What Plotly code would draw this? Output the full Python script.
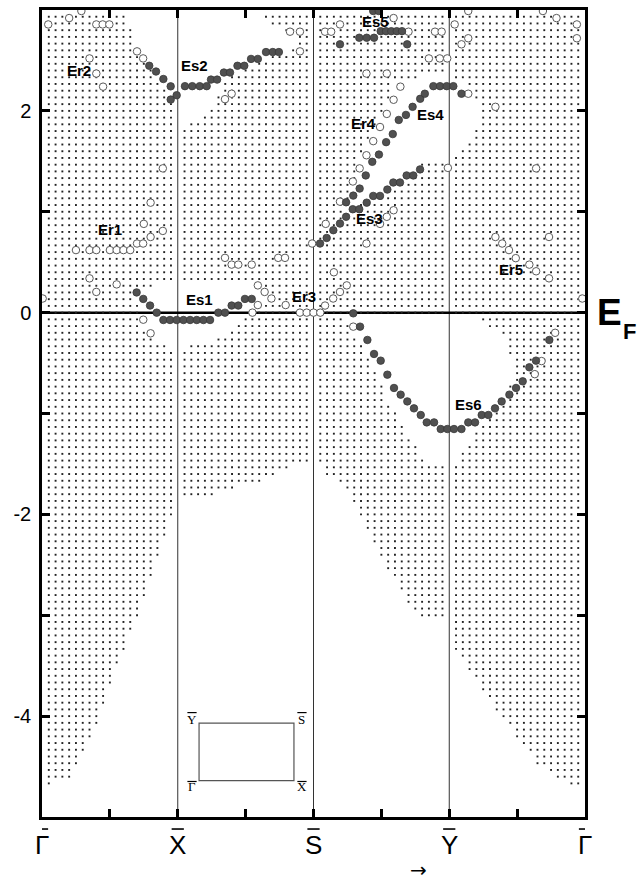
import plotly.graph_objects as go

# ---------------- data ----------------
sym_pos = [0, 1, 2, 3, 4]
sym_labels = ["\u0393", "X", "S", "Y", "\u0393"]
y_ticks = [-4, -3, -2, -1, 0, 1, 2]
y_tick_text = ["-4", "", "-2", "", "0", "", "2"]

# white (gap) regions of the projected bulk bands, (k, E) vertices
gap_bottom = [(0.0, -5.3), (0.0, -4.68), (0.2, -4.65), (0.26, -4.47), (0.32, -4.3), (0.42, -4.02),
              (0.52, -3.63), (0.62, -3.28), (0.71, -3.0), (0.77, -2.75), (0.86, -2.42), (0.93, -2.12),
              (0.97, -1.97), (0.99, -1.85), (1.3, -1.8), (1.45, -1.73), (1.62, -1.67), (1.82, -1.53),
              (2.0, -1.47), (2.05, -1.53), (2.1, -1.6), (2.18, -1.66), (2.27, -1.8), (2.33, -1.98),
              (2.38, -2.15), (2.43, -2.27), (2.48, -2.41), (2.57, -2.6), (2.63, -2.73), (2.72, -2.92),
              (2.8, -3.02), (2.99, -3.04), (3.02, -3.3), (3.17, -3.6), (3.37, -4.0), (3.56, -4.3),
              (3.64, -4.46), (3.79, -4.62), (3.96, -4.7), (4.0, -4.72), (4.0, -5.3)]
gap_X_upper = [(0.62, 3.1), (0.63, 2.95), (0.66, 2.79), (0.70, 2.65), (0.73, 2.52), (0.77, 2.45),
               (0.82, 2.38), (0.89, 2.25), (0.94, 2.12), (0.97, 2.04), (0.99, 1.95), (1.02, 1.83),
               (1.10, 1.87), (1.16, 1.93), (1.22, 2.02), (1.27, 2.08), (1.31, 2.18), (1.36, 2.30),
               (1.42, 2.36), (1.50, 2.43), (1.60, 2.48), (1.70, 2.55), (1.80, 2.58), (1.88, 2.63),
               (1.90, 2.72), (1.80, 2.78), (1.74, 2.84), (1.62, 2.90), (1.58, 3.0), (1.57, 3.1)]
gap_X_fermi = [(0.66, 0.22), (0.75, 0.25), (0.90, 0.29), (1.10, 0.30), (1.30, 0.30), (1.50, 0.30),
               (1.62, 0.24), (1.66, 0.12), (1.55, 0.03), (1.47, -0.05), (1.43, -0.14), (1.33, -0.22),
               (1.23, -0.29), (1.0, -0.36), (0.85, -0.30), (0.77, -0.22), (0.74, -0.14), (0.72, -0.05),
               (0.70, 0.08)]
gap_SY_upper = [(2.20, 0.93), (2.26, 1.05), (2.29, 1.22), (2.31, 1.40), (2.35, 1.55), (2.40, 1.68),
                (2.45, 1.80), (2.50, 1.95), (2.54, 2.05), (2.56, 2.17), (2.59, 2.27), (2.75, 2.30),
                (2.83, 2.36), (2.90, 2.38), (3.0, 2.36), (3.05, 2.31), (3.15, 2.24), (3.19, 2.12),
                (3.23, 2.0), (3.20, 1.86), (3.18, 1.72), (3.10, 1.66), (3.06, 1.55), (3.0, 1.50),
                (2.80, 1.47), (2.76, 1.40), (2.70, 1.33), (2.60, 1.26), (2.50, 1.19), (2.40, 1.12),
                (2.30, 1.05), (2.24, 0.97)]
gap_Y_fermi = [(2.19, -0.02), (3.20, -0.02), (3.25, -0.10), (3.33, -0.17), (3.42, -0.27), (3.45, -0.45),
               (3.46, -0.65), (3.44, -0.80), (3.36, -0.90), (3.30, -1.0), (3.22, -1.12), (3.15, -1.27),
               (3.10, -1.40), (3.05, -1.47), (2.85, -1.47), (2.80, -1.40), (2.76, -1.30), (2.70, -1.20),
               (2.67, -1.10), (2.62, -1.03), (2.57, -0.94), (2.53, -0.80), (2.48, -0.66), (2.43, -0.53),
               (2.38, -0.40), (2.33, -0.27), (2.28, -0.17), (2.22, -0.08)]
gaps = [gap_bottom, gap_X_upper, gap_X_fermi, gap_SY_upper, gap_Y_fermi]

# surface states (filled circles)
es_k = [0.79, 0.84, 0.894, 0.948, 0.992, 0.948, 1.053, 1.107, 1.162, 1.213, 1.245, 1.29, 1.34, 1.385,
        1.44, 1.49, 1.54, 1.59, 1.65, 1.70, 1.745,
        0.697, 0.746, 0.796, 0.845, 0.894, 0.943, 0.992, 1.042, 1.091, 1.14, 1.189, 1.238, 1.299, 1.348,
        1.397, 1.446, 1.495, 1.545,
        2.195, 2.337, 2.392, 2.446, 2.495, 2.534, 2.573, 2.613, 2.652, 2.69, 2.44, 2.48,
        2.048, 2.097, 2.146, 2.195, 2.24,
        2.289, 2.337, 2.392, 2.44, 2.49, 2.544, 2.588, 2.637, 2.686, 2.735, 2.785,
        2.24, 2.293, 2.34, 2.385, 2.433, 2.482, 2.535, 2.584, 2.628, 2.681, 2.73, 2.786, 2.82,
        2.883, 2.932, 2.981, 3.03, 3.09,
        2.293, 2.343, 2.397, 2.446, 2.495, 2.544, 2.593, 2.642, 2.691, 2.74, 2.79, 2.834, 2.888,
        2.937, 2.986, 3.035, 3.09, 3.14, 3.19, 3.239, 3.288, 3.337, 3.386, 3.443, 3.492, 3.541,
        3.59, 3.639, 3.737]
es_E = [2.447, 2.39, 2.316, 2.243, 2.155, 2.112, 2.245, 2.245, 2.245, 2.245, 2.31, 2.31, 2.38, 2.38,
        2.447, 2.447, 2.515, 2.515, 2.583, 2.583, 2.583,
        0.20, 0.136, 0.07, 0.0, -0.073, -0.073, -0.073, -0.073, -0.073, -0.073, -0.073, -0.073, 0.0, 0.0,
        0.07, 0.07, 0.136, 0.136,
        2.66, 2.725, 2.725, 2.725, 2.79, 2.79, 2.79, 2.79, 2.79, 2.66, 2.99, 2.99,
        0.685, 0.74, 0.817, 0.883, 0.95,
        1.025, 1.025, 1.09, 1.157, 1.157, 1.22, 1.29, 1.29, 1.36, 1.36, 1.42,
        1.094, 1.16, 1.23, 1.36, 1.495, 1.567, 1.69, 1.77, 1.91, 1.96, 2.04, 2.12, 2.17,
        2.245, 2.245, 2.245, 2.245, 2.17,
        -0.007, -0.139, -0.271, -0.41, -0.476, -0.615, -0.747, -0.813, -0.88, -0.949, -1.015, -1.088,
        -1.088, -1.154, -1.154, -1.154, -1.154, -1.088, -1.088, -1.015, -1.015, -0.949, -0.88, -0.813,
        -0.747, -0.681, -0.542, -0.476, -0.271]

# resonances (open circles)
er_k = [0.046, 0.20, 0.29, 0.40, 0.447, 0.496, 0.35, 0.40, 0.45, 0.70, 0.745,
        0.89, 0.80, 0.75, 0.89, 0.80, 0.70, 0.745,
        0.25, 0.35, 0.40, 0.50, 0.55, 0.60, 0.65,
        0.35, 0.55, 0.40, 0.005, 0.746, 0.80,
        1.827, 1.90, 1.90, 1.397, 1.348,
        1.348, 1.397, 1.446, 1.545, 1.74, 1.79, 1.99,
        1.59, 1.64, 1.69, 1.59, 1.795, 1.55,
        1.90, 1.95, 2.0, 2.05, 2.085, 2.145, 2.195, 2.245, 2.15,
        2.195, 2.085, 2.13, 2.59, 2.70, 2.85, 2.895, 2.944, 2.93, 2.985, 2.39, 2.54,
        2.64, 2.59, 2.54, 2.49, 2.44, 2.39, 2.34, 2.29, 2.195, 2.09,
        2.54, 2.59, 2.49, 2.39, 2.99, 2.293,
        3.04, 3.14, 3.14, 3.09, 3.14, 3.34, 3.64, 3.79, 3.69, 3.94, 3.94,
        3.34, 3.39, 3.44, 3.49, 3.59, 3.64, 3.735, 3.735, 3.98,
        3.78, 3.68, 3.63]
er_E = [2.857, 2.92, 2.99, 2.857, 2.857, 2.857, 2.52, 2.37, 2.24, 2.59, 2.52,
        1.43, 1.09, 0.88, 0.81, 0.75, 0.685, 0.685,
        0.62, 0.62, 0.62, 0.62, 0.62, 0.62, 0.62,
        0.34, 0.28, 0.205, 0.14, -0.07, -0.205,
        2.785, 2.785, 2.59, 2.17, 2.116,
        0.543, 0.476, 0.476, 0.476, 0.543, 0.543, 0.685,
        0.27, 0.205, 0.14, 0.075, 0.075, 0.0,
        0.0, 0.0, 0.0, 0.0, 0.07, 0.14, 0.205, 0.27, 0.40,
        2.857, 2.785, 2.785, 2.92, 2.785, 2.52, 2.785, 2.785, 2.52, 2.52, 2.37, 2.37,
        2.24, 2.11, 1.97, 1.84, 1.70, 1.56, 1.43, 1.30, 1.10, 0.88,
        0.95, 1.015, 0.88, 0.685, 1.435, -0.139,
        2.857, 2.99, 2.72, 2.66, 2.17, 2.04, 1.43, 2.92, 2.99, 2.857, 2.72,
        0.75, 0.685, 0.62, 0.54, 0.476, 0.41, 0.75, 0.34, 0.14,
        -0.20, -0.48, -0.61]

# state labels
lab_text = ["Er2", "Es2", "Er1", "Es1", "Er3", "Es5", "Er4", "Es4", "Es3", "Er5", "Es6"]
lab_k = [0.27, 1.12, 0.50, 1.16, 1.93, 2.46, 2.37, 2.865, 2.41, 3.455, 3.145]
lab_E = [2.40, 2.45, 0.82, 0.13, 0.16, 2.89, 1.875, 1.96, 0.93, 0.43, -0.91]

# inset Brillouin zone
bz_k = [1.157, 1.856]
bz_E = [-4.64, -4.07]
bz_labels = ["Y", "S", "\u0393", "X"]
bz_lab_k = [1.105, 1.915, 1.105, 1.915]
bz_lab_E = [-4.03, -4.03, -4.70, -4.70]
bz_bar_E = [-3.965, -3.965, -4.648, -4.648]

# bulk-projection grid spacing (k, eV)
dk = 0.05
dE = 1.0 / 15.0


def inside(px, py, poly):
    c = False
    n = len(poly)
    j = n - 1
    for i in range(n):
        xi, yi = poly[i]
        xj, yj = poly[j]
        if (yi > py) != (yj > py):
            xint = xi + (py - yi) * (xj - xi) / (yj - yi)
            if px < xint:
                c = not c
        j = i
    return c


bx, by = [], []
for i in range(1, 80):
    if i % 20 == 0:
        continue
    kk = i * dk
    for n in range(-72, 45):
        ee = n * dE
        if any(inside(kk, ee, g) for g in gaps):
            continue
        bx.append(kk)
        by.append(ee)

fig = go.Figure()
fig.add_trace(go.Scatter(x=bx, y=by, mode="markers", hoverinfo="skip",
                         marker=dict(symbol="square", size=1.9, color="#222222", line=dict(width=0))))
fig.add_trace(go.Scatter(x=er_k, y=er_E, mode="markers",
                         marker=dict(symbol="circle", size=7.5, color="white",
                                     line=dict(width=1, color="#5a5a5a"))))
fig.add_trace(go.Scatter(x=es_k, y=es_E, mode="markers",
                         marker=dict(symbol="circle", size=7.5, color="#505050",
                                     line=dict(width=0.8, color="#383838"))))

shapes = []
for xv in sym_pos[1:-1]:
    shapes.append(dict(type="line", xref="x", yref="y", x0=xv, x1=xv, y0=-5, y1=3,
                       line=dict(color="#333333", width=1), layer="below"))
shapes.append(dict(type="line", xref="x", yref="y", x0=0, x1=4, y0=0, y1=0,
                   line=dict(color="black", width=2.5), layer="below"))
shapes.append(dict(type="rect", xref="x", yref="y", x0=bz_k[0], x1=bz_k[1], y0=bz_E[0], y1=bz_E[1],
                   line=dict(color="#555555", width=1.2), fillcolor="rgba(0,0,0,0)"))
# overlines of the symmetry-point labels
for xv in sym_pos:
    shapes.append(dict(type="line", xref="x", yref="paper", x0=xv - 0.045, x1=xv + 0.045,
                       y0=-0.0149, y1=-0.0149, line=dict(color="black", width=1.6)))
for kx, eb in zip(bz_lab_k, bz_bar_E):
    shapes.append(dict(type="line", xref="x", yref="y", x0=kx - 0.034, x1=kx + 0.034,
                       y0=eb, y1=eb, line=dict(color="black", width=1.2)))

ann = []
for t, kx, ey in zip(lab_text, lab_k, lab_E):
    ann.append(dict(x=kx, y=ey, xref="x", yref="y", text="<b>" + t + "</b>", showarrow=False,
                    font=dict(family="Liberation Sans, Arial", size=15, color="black")))
for t, kx, ey in zip(bz_labels, bz_lab_k, bz_lab_E):
    ann.append(dict(x=kx, y=ey, xref="x", yref="y", text=t, showarrow=False,
                    font=dict(family="Liberation Serif, DejaVu Serif", size=13, color="black")))
for t, kx in zip(sym_labels, sym_pos):
    ann.append(dict(x=kx, y=-0.0347, xref="x", yref="paper", text=t, showarrow=False,
                    xanchor="center", yanchor="middle",
                    font=dict(family="Liberation Sans Narrow, Liberation Sans", size=26, color="black")))
ann.append(dict(x=1.046, y=0.0, xref="paper", yref="y", text="<b>E</b>", showarrow=False,
                xanchor="center", yanchor="middle", borderpad=0,
                font=dict(family="Liberation Sans, Arial", size=37, color="black")))
ann.append(dict(x=1.0815, y=-0.19, xref="paper", yref="y", text="<b>F</b>", showarrow=False,
                xanchor="center", yanchor="middle", borderpad=0,
                font=dict(family="Liberation Sans, Arial", size=22, color="black")))
ann.append(dict(x=2.77, y=-0.066, xref="x", yref="paper", text="\u2192", showarrow=False,
                xanchor="center", yanchor="middle",
                font=dict(family="DejaVu Sans", size=20, color="black")))

fig.update_layout(
    width=639, height=885,
    margin=dict(l=42, r=54, t=10, b=68, autoexpand=False),
    plot_bgcolor="white", paper_bgcolor="white",
    showlegend=False,
    shapes=shapes, annotations=ann,
    xaxis=dict(range=[0, 4], tickmode="array",
               tickvals=[0, 0.5, 1, 1.5, 2, 2.5, 3, 3.5, 4],
               showticklabels=False, automargin=False,
               ticks="inside", ticklen=8, tickwidth=2.5, tickcolor="black",
               showline=True, linewidth=2.5, linecolor="black", mirror="allticks",
               showgrid=False, zeroline=False),
    yaxis=dict(range=[-5, 3], tickmode="array", tickvals=y_ticks, ticktext=y_tick_text,
               automargin=False, ticklabelstandoff=4,
               ticks="inside", ticklen=8, tickwidth=2.5, tickcolor="black",
               showline=True, linewidth=2.5, linecolor="black", mirror="allticks",
               showgrid=False, zeroline=False,
               tickfont=dict(family="Liberation Sans, Arial", size=20, color="black")),
)

# remove the default page margin so the 639x885 figure fills the window exactly
fig.write_html("out.html", config={"displayModeBar": False},
               post_script="document.body.style.margin='0';document.body.style.overflow='hidden';")
